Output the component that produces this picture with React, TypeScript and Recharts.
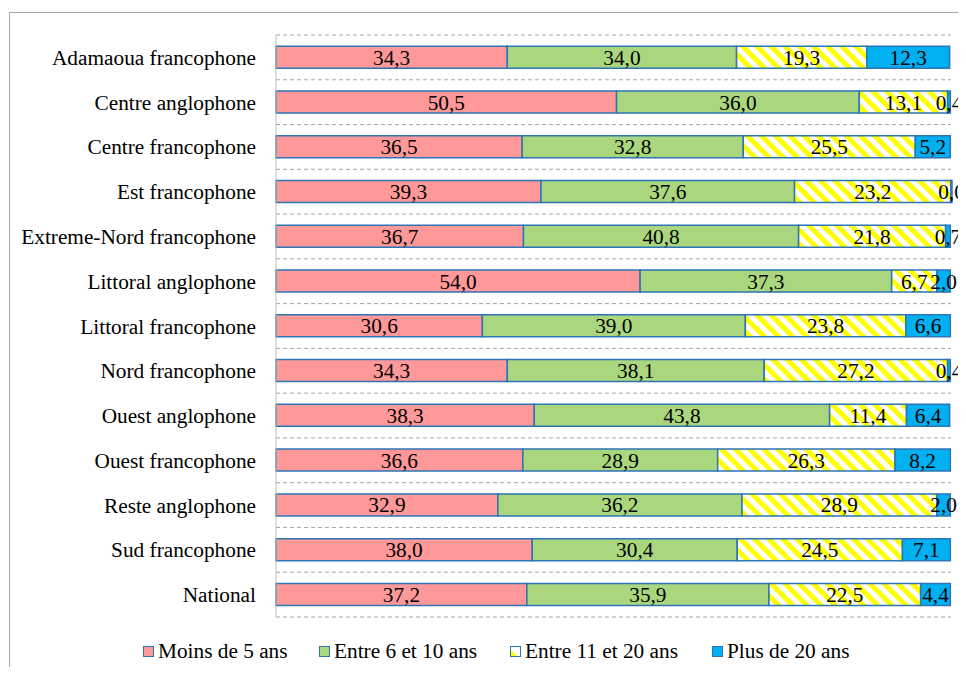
import React from 'react';
import { BarChart, Bar, XAxis, YAxis, CartesianGrid, LabelList, Legend } from 'recharts';

const categories = [
  'Adamaoua francophone',
  'Centre anglophone',
  'Centre francophone',
  'Est francophone',
  'Extreme-Nord francophone',
  'Littoral anglophone',
  'Littoral francophone',
  'Nord francophone',
  'Ouest anglophone',
  'Ouest francophone',
  'Reste anglophone',
  'Sud francophone',
  'National',
];
const moins5 = [34.3, 50.5, 36.5, 39.3, 36.7, 54.0, 30.6, 34.3, 38.3, 36.6, 32.9, 38.0, 37.2];
const entre6_10 = [34.0, 36.0, 32.8, 37.6, 40.8, 37.3, 39.0, 38.1, 43.8, 28.9, 36.2, 30.4, 35.9];
const entre11_20 = [19.3, 13.1, 25.5, 23.2, 21.8, 6.7, 23.8, 27.2, 11.4, 26.3, 28.9, 24.5, 22.5];
const plus20 = [12.3, 0.4, 5.2, 0.0, 0.7, 2.0, 6.6, 0.4, 6.4, 8.2, 2.0, 7.1, 4.4];

const seriesNames = ['Moins de 5 ans', 'Entre 6 et 10 ans', 'Entre 11 et 20 ans', 'Plus de 20 ans'];

const data = categories.map((c, i) => ({
  name: c,
  a: moins5[i],
  b: entre6_10[i],
  c: entre11_20[i],
  d: plus20[i],
}));

const FONT = '"Liberation Serif", "Times New Roman", serif';
const FS = 21.3;
const STROKE = '#2E75B6';
const fills = ['#FF9999', '#AAD77E', 'url(#hatchYellow)', '#00B0F0'];
const keys = ['a', 'b', 'c', 'd'];

const fmt = (v: any) => (typeof v === 'number' ? v.toFixed(1).replace('.', ',') : v);

const legendLefts = [135, 311, 502, 704];

const Swatch = ({ idx }: { idx: number }) => (
  <svg width={11} height={11} style={{ display: 'block' }}>
    {idx === 2 ? (
      <>
        <rect x={0.5} y={0.5} width={10} height={10} fill="#fff" stroke={STROKE} strokeWidth={1} />
        <polygon points="1,4 1,10 7,10" fill="#FFFF00" />
      </>
    ) : (
      <rect x={0.5} y={0.5} width={10} height={10} fill={fills[idx]} stroke={STROKE} strokeWidth={1} />
    )}
  </svg>
);

const renderLegend = () => (
  <div style={{ position: 'relative', height: 46, width: 958 }}>
    {seriesNames.map((n, i) => (
      <div
        key={n}
        style={{
          position: 'absolute',
          left: legendLefts[i],
          top: 22,
          height: 24,
          display: 'flex',
          alignItems: 'center',
          fontFamily: FONT,
          fontSize: FS,
          color: '#000',
          whiteSpace: 'nowrap',
        }}
      >
        <Swatch idx={i} />
        <span style={{ marginLeft: 4 }}>{n}</span>
      </div>
    ))}
  </div>
);

export default function App() {
  return (
    <div style={{ position: 'relative', width: 958, height: 659 }}>
      <div
        style={{
          position: 'absolute',
          left: 1,
          top: 4,
          right: 0,
          bottom: 0,
          borderLeft: '1px solid #A6A6A6',
          borderTop: '1px solid #A6A6A6',
        }}
      />
      <div style={{ position: 'absolute', left: 0, top: 0 }}>
        <BarChart
          width={958}
          height={659}
          data={data}
          layout="vertical"
          margin={{ top: 27, right: 15, bottom: 4, left: 0 }}
          barCategoryGap="25%"
          style={{ overflow: 'visible' }}
        >
          <defs>
            <pattern
              id="hatchYellow"
              patternUnits="userSpaceOnUse"
              width={10}
              height={10}
              patternTransform="rotate(-45)"
            >
              <rect x={0} y={0} width={10} height={10} fill="#FFFFFF" />
              <rect x={0} y={0} width={5} height={10} fill="#FFFF00" />
            </pattern>
          </defs>
          <CartesianGrid
            vertical={false}
            stroke="#A6A6A6"
            strokeDasharray="4 3"
            horizontalCoordinatesGenerator={({ offset }: any) =>
              Array.from({ length: categories.length + 1 }, (_, i) => offset.top + (i * offset.height) / categories.length)
            }
          />
          <XAxis type="number" domain={[0, 100]} hide />
          <YAxis
            type="category"
            dataKey="name"
            width={268}
            tickLine={false}
            axisLine={{ stroke: '#BFBFBF' }}
            tickSize={6}
            tickMargin={14}
            interval={0}
            tick={{ fill: '#000', fontSize: FS, fontFamily: FONT }}
          />
          <Legend verticalAlign="bottom" content={renderLegend} />
          {keys.map((k, i) => (
            <Bar
              key={k}
              dataKey={k}
              name={seriesNames[i]}
              stackId="s"
              fill={fills[i]}
              stroke={STROKE}
              strokeWidth={1.5}
              minPointSize={i === 3 ? 1 : 0}
              isAnimationActive={false}
            >
              <LabelList
                dataKey={k}
                position="center"
                formatter={fmt}
                fill="#000"
                style={{ fontSize: FS, fontFamily: FONT }}
              />
            </Bar>
          ))}
        </BarChart>
      </div>
    </div>
  );
}
